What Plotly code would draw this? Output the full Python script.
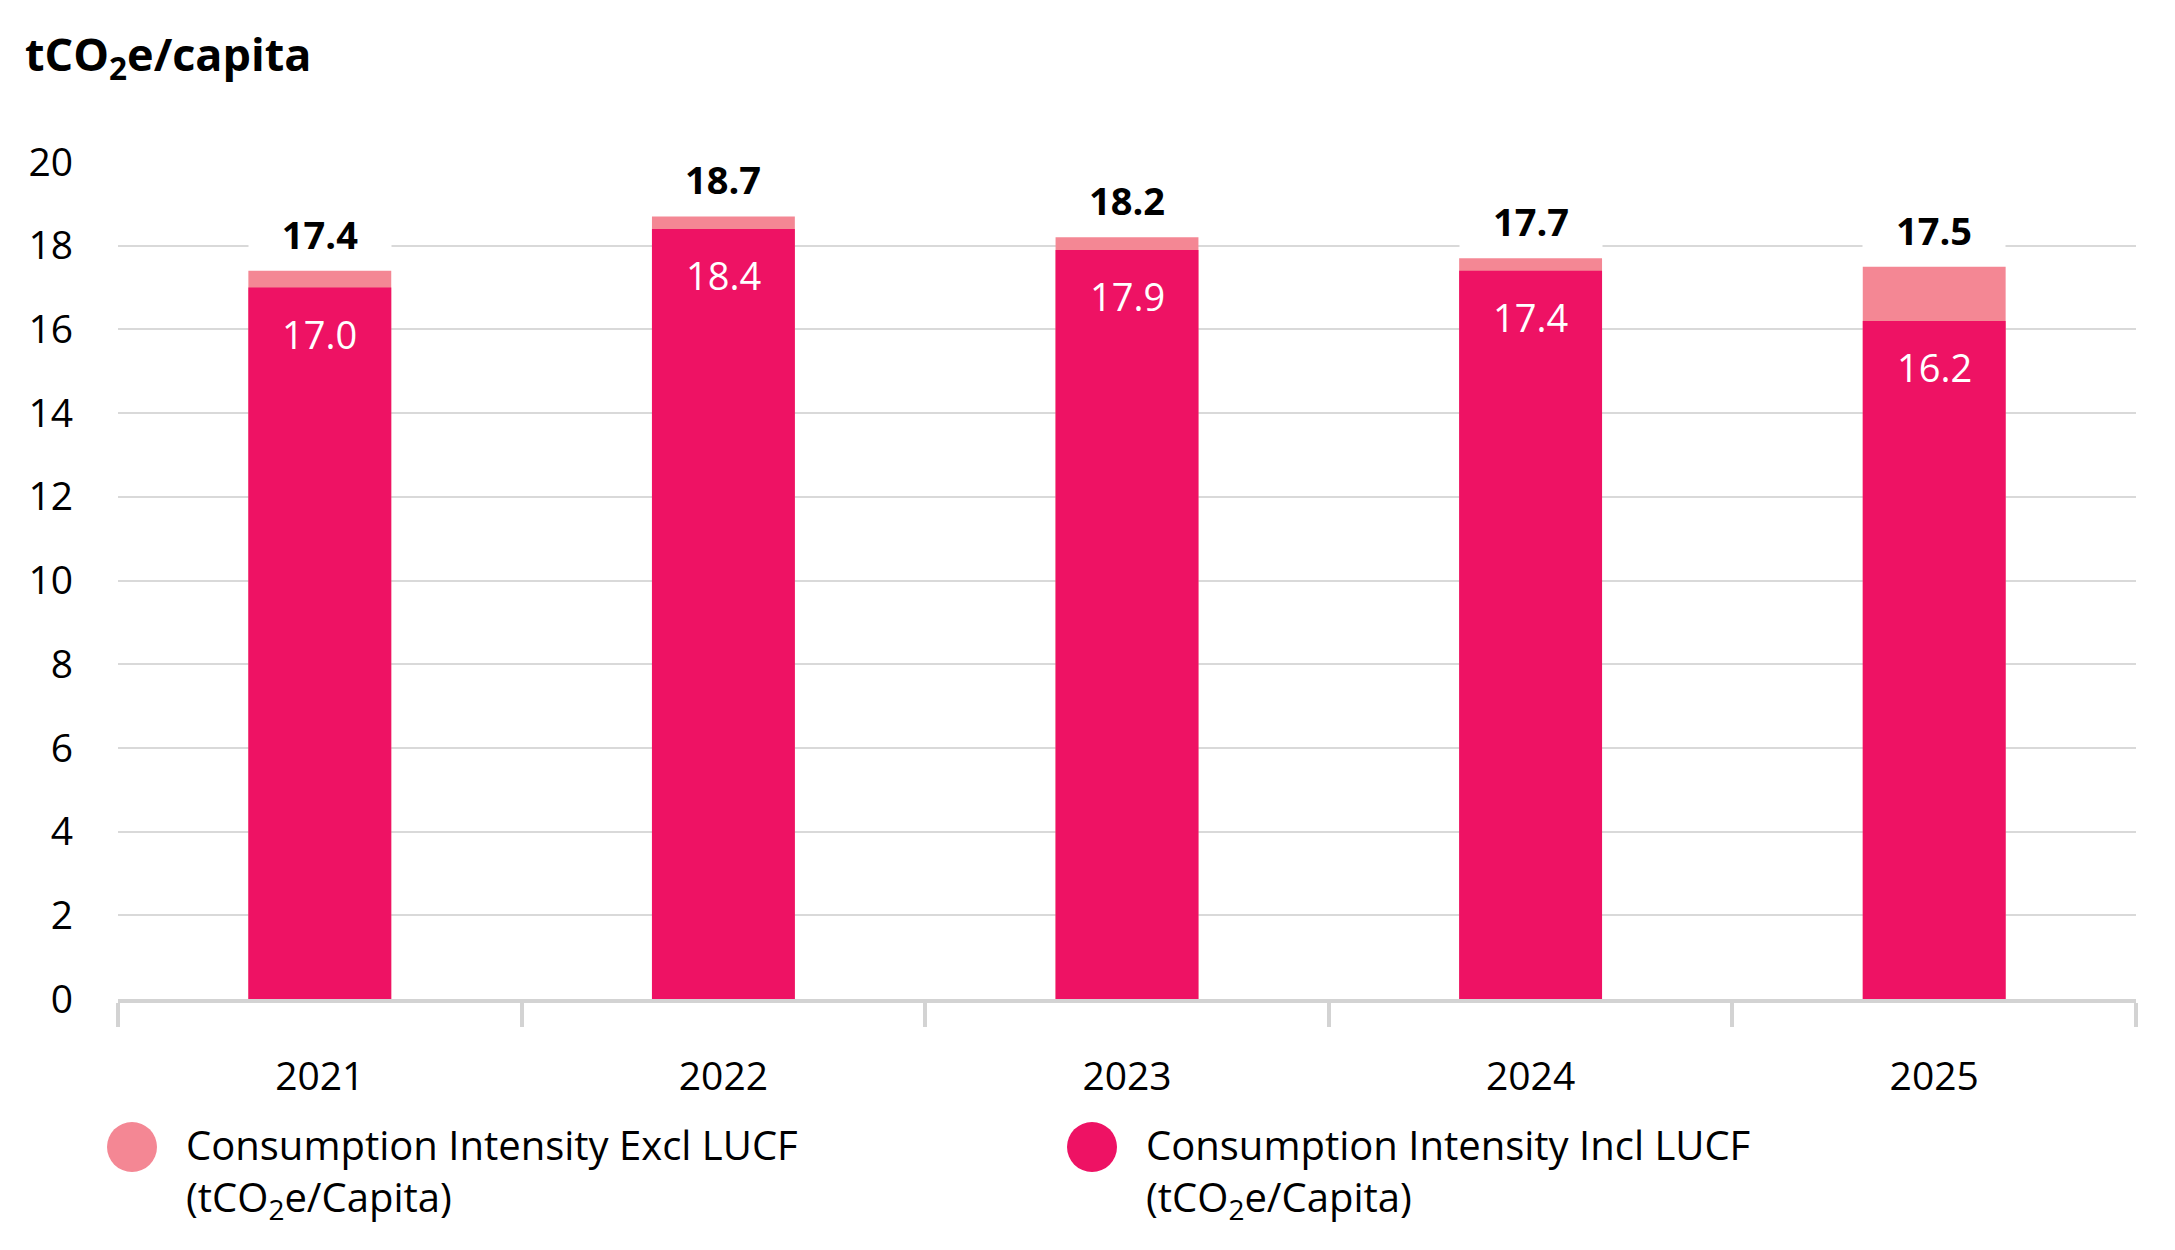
import plotly.graph_objects as go

years = ["2021", "2022", "2023", "2024", "2025"]
excl_lucf = [17.4, 18.7, 18.2, 17.7, 17.5]
incl_lucf = [17.0, 18.4, 17.9, 17.4, 16.2]
y_ticks = [0, 2, 4, 6, 8, 10, 12, 14, 16, 18, 20]
legend_names = ["Consumption Intensity Excl LUCF<br>(tCO<sub>2</sub>e/Capita)",
                "Consumption Intensity Incl LUCF<br>(tCO<sub>2</sub>e/Capita)"]

LIGHT = "#F48794"
DARK = "#EE1264"
GRID = "#D9D9D9"
AXIS = "#D3D3D3"
FONT = "Open Sans"

W, H = 2175, 1250
L, R, T, B = 118, 39, 162, 251
PW, PH = W - L - R, H - T - B

def px_x(px):
    return (px - L) / PW

def px_y(py):
    return (H - B - py) / PH

fig = go.Figure()
fig.add_trace(go.Bar(x=years, y=excl_lucf, marker=dict(color=LIGHT, line=dict(width=0)),
                     name="excl", showlegend=False, hoverinfo="skip"))
fig.add_trace(go.Bar(x=years, y=incl_lucf, marker=dict(color=DARK, line=dict(width=0)),
                     name="incl", showlegend=False, hoverinfo="skip"))

annotations = []
# category axis: annotation positions given as category index
for i, v in enumerate(excl_lucf):
    annotations.append(dict(x=i, y=v, xref="x", yref="y", text=f"{v:.1f}", showarrow=False,
                            yanchor="middle", yshift=37, bgcolor="white", width=140, height=50,
                            font=dict(family=FONT, size=38, color="black", weight=700)))
for i, v in enumerate(incl_lucf):
    annotations.append(dict(x=i, y=v, xref="x", yref="y", text=f"{v:.1f}", showarrow=False,
                            yanchor="middle", yshift=-46,
                            font=dict(family=FONT, size=38, color="white", weight=500)))

shapes = []
leg_items = [(132, 184, LIGHT, 0), (1092, 1144, DARK, 1)]
for cx, tx, col, k in leg_items:
    shapes.append(dict(type="circle", xref="paper", yref="paper", xsizemode="pixel", ysizemode="pixel",
                       xanchor=px_x(cx), yanchor=px_y(1147), x0=-25, x1=25, y0=-25, y1=25,
                       fillcolor=col, line=dict(width=0)))
    annotations.append(dict(x=px_x(tx), y=px_y(1172), xref="paper", yref="paper", text=legend_names[k],
                            showarrow=False, xanchor="left", yanchor="middle", align="left",
                            font=dict(family=FONT, size=40, color="black", weight=500)))

fig.update_layout(
    width=W, height=H,
    margin=dict(l=L, r=R, t=T, b=B),
    paper_bgcolor="white", plot_bgcolor="white",
    barmode="overlay", bargap=0.646,
    showlegend=False,
    title=dict(text="<b>tCO<sub>2</sub>e/capita</b>", x=25 / W, xref="container", xanchor="left",
               y=1 - 55 / H, yref="container", yanchor="middle",
               font=dict(family=FONT, size=45, color="black")),
    font=dict(family=FONT, size=38, color="black"),
    annotations=annotations,
    shapes=shapes,
)
fig.update_xaxes(type="category", showline=True, linecolor=AXIS, linewidth=4,
                 ticks="outside", tickson="boundaries", ticklen=24, tickwidth=4, tickcolor=AXIS,
                 showgrid=False, ticklabelstandoff=40, tickangle=0,
                 tickfont=dict(family=FONT, size=39, color="black"))
fig.update_yaxes(range=[0, 20], tickvals=y_ticks, showgrid=True, gridcolor=GRID, gridwidth=2,
                 zeroline=False, showline=False, ticks="", ticklabelstandoff=44,
                 tickfont=dict(family=FONT, size=39, color="black"))

fig.write_html("out.html")
